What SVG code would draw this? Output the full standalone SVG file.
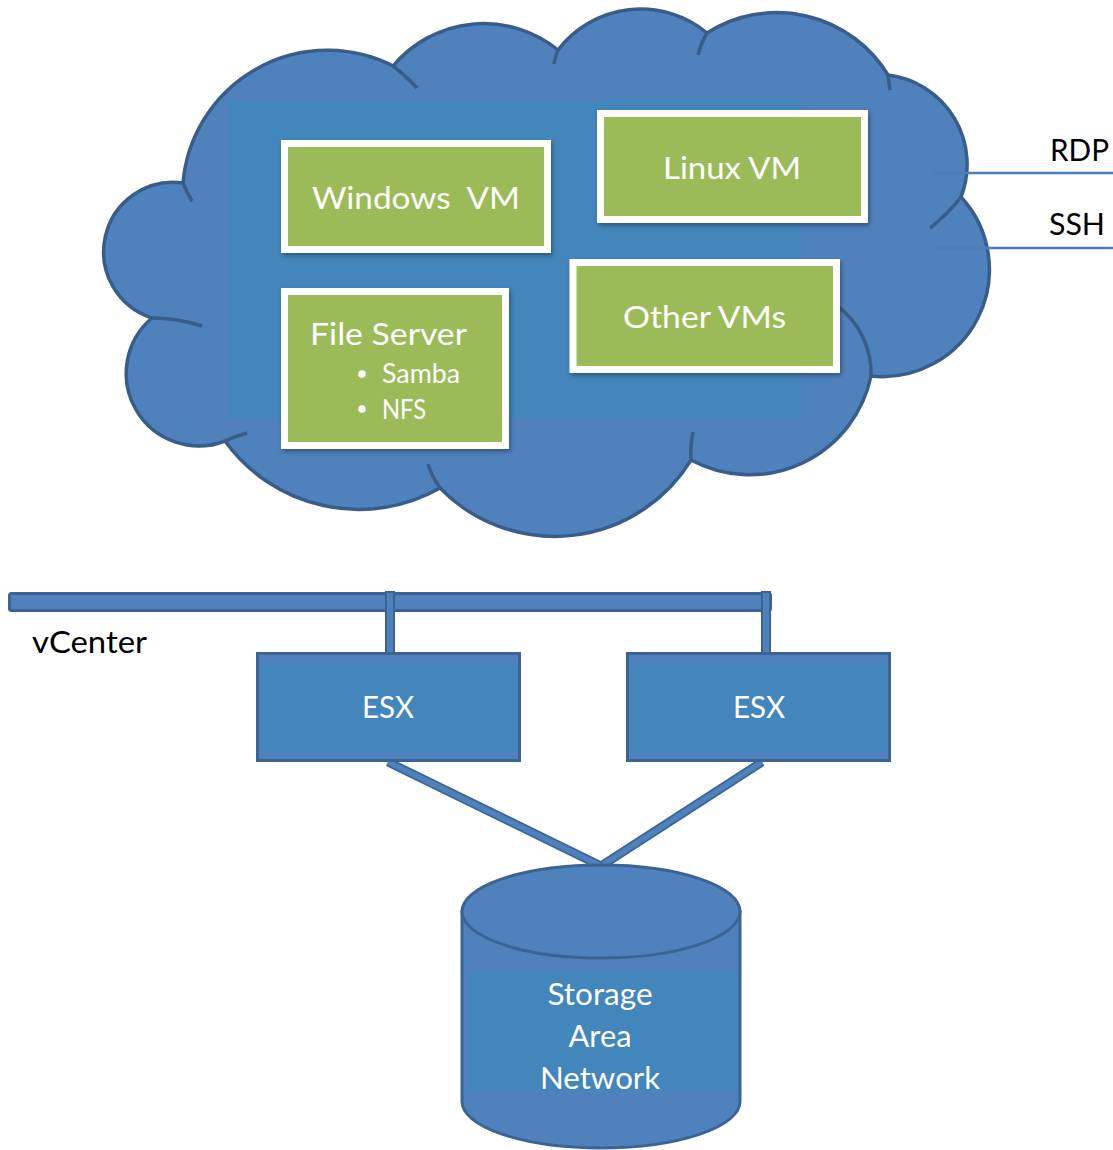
<svg xmlns="http://www.w3.org/2000/svg" width="1113" height="1150" viewBox="0 0 1113 1150">
<defs>
<style>
.cloud{fill:#4F81BD;stroke:#385D8A;stroke-width:3.5;stroke-linejoin:round}
.stub{fill:none;stroke:#385D8A;stroke-width:3.5;stroke-linecap:butt}
.ph{fill:#4386BB}
.vm{fill:#9BBB59;stroke:#FFFFFF;stroke-width:7;filter:url(#sh)}
.wt{fill:#FFFFFF;font-family:Lato,"Open Sans","Noto Sans",sans-serif}
.bk{fill:#000000;font-family:Lato,"Open Sans","Noto Sans",sans-serif;font-size:31px}
.big{font-size:31px}
.small{font-size:26px}
.box{fill:#4F81BD;stroke:#3B6494;stroke-width:3}
.inner{fill:#4386BC}
.proto{stroke:#4A7EBE;stroke-width:2.5;fill:none}
.edge{fill:none;stroke:#3B6494;stroke-width:9;stroke-linecap:butt}
.core{fill:none;stroke:#4F81BD;stroke-width:5.5;stroke-linecap:butt}
.stem{fill:#4F81BD;stroke:#3B6494;stroke-width:2}
</style>
<filter id="sh" x="-10%" y="-10%" width="120%" height="130%">
<feDropShadow dx="1.5" dy="2.5" stdDeviation="2" flood-color="#000" flood-opacity="0.35"/>
</filter>
</defs>

<g id="cloud">
<path class="cloud" d="M183,183 A145 145 0 0 1 393,66 A118 118 0 0 1 558,50 A104 104 0 0 1 707,33 A130 130 0 0 1 888,75 A90 90 0 0 1 961,197 A107 107 0 0 1 871,376 A124 124 0 0 1 691,460 A160 160 0 0 1 440,488 A165 165 0 0 1 225,441 A72.5 72.5 0 0 1 152,318 A69.5 69.5 0 0 1 183,183 Z"/>
<path class="stub" d="M183,183 Q187,193 192,201"/>
<path class="stub" d="M393,66 Q405,75 417,88"/>
<path class="stub" d="M558,50 Q555,57 554,64"/>
<path class="stub" d="M707,33 Q701,43 698,55"/>
<path class="stub" d="M888,75 Q889,82 890,90"/>
<path class="stub" d="M961,197 Q948,214 930,228"/>
<path class="stub" d="M871,376 C872,350 860,322 836,305"/>
<path class="stub" d="M691,460 Q690,446 693,432"/>
<path class="stub" d="M440,488 Q432,477 428,464"/>
<path class="stub" d="M225,441 Q236,436 247,433"/>
<path class="stub" d="M152,318 Q177,318 202,326"/>
<rect class="ph" x="228" y="100" width="573" height="318"/>
</g>

<g id="vm-windows">
<rect class="vm" x="284.5" y="143.5" width="263" height="106"/>
<text class="wt big" x="312" y="209" textLength="208" lengthAdjust="spacingAndGlyphs" xml:space="preserve">Windows  VM</text>
</g>

<g id="vm-linux">
<rect class="vm" x="600.5" y="113.5" width="264" height="106"/>
<text class="wt big" x="663" y="179" textLength="138" lengthAdjust="spacingAndGlyphs">Linux VM</text>
</g>

<g id="vm-other">
<rect class="vm" x="573" y="262.5" width="263.5" height="107"/>
<text class="wt big" x="623" y="328" textLength="163" lengthAdjust="spacingAndGlyphs">Other VMs</text>
</g>

<g id="vm-fileserver">
<rect class="vm" x="284.5" y="291.5" width="221" height="154"/>
<text class="wt big" x="310" y="345" textLength="157" lengthAdjust="spacingAndGlyphs">File Server</text>
<circle cx="362" cy="374" r="3.8" fill="#FFFFFF"/>
<text class="wt small" x="382" y="383" textLength="78" lengthAdjust="spacingAndGlyphs">Samba</text>
<circle cx="362" cy="409" r="3.8" fill="#FFFFFF"/>
<text class="wt small" x="382" y="419" textLength="44" lengthAdjust="spacingAndGlyphs">NFS</text>
</g>

<g id="access">
<line class="proto" x1="932" y1="173" x2="1113" y2="173"/>
<line class="proto" x1="932" y1="248" x2="1113" y2="248"/>
<text class="bk" x="1050" y="161" textLength="59" lengthAdjust="spacingAndGlyphs">RDP</text>
<text class="bk" x="1049" y="235" textLength="56" lengthAdjust="spacingAndGlyphs">SSH</text>
</g>

<g id="vcenter">
<rect class="box" x="9.5" y="593.5" width="761" height="17" rx="2"/>
<text class="bk" x="32" y="653" textLength="115" lengthAdjust="spacingAndGlyphs">vCenter</text>
</g>

<g id="connectors">
<rect class="stem" x="386" y="592" width="8" height="63"/>
<rect class="stem" x="762" y="592" width="8" height="63"/>
<path class="edge" d="M388,762 L601,866 L762,762"/>
<path class="core" d="M388,762 L601,866 L762,762"/>
</g>

<g id="esx-1">
<rect class="box" x="257.5" y="653.5" width="262" height="107"/>
<rect class="inner" x="261" y="664" width="255" height="88"/>
<text class="wt big" x="388" y="718" text-anchor="middle" textLength="52" lengthAdjust="spacingAndGlyphs">ESX</text>
</g>

<g id="esx-2">
<rect class="box" x="627.5" y="653.5" width="262" height="107"/>
<rect class="inner" x="631" y="664" width="255" height="88"/>
<text class="wt big" x="759" y="718" text-anchor="middle" textLength="52" lengthAdjust="spacingAndGlyphs">ESX</text>
</g>

<g id="san">
<path class="box" d="M462,911.5 L462,1101.5 A139 46.5 0 0 0 740,1101.5 L740,911.5 Z"/>
<ellipse class="box" cx="601" cy="911.5" rx="139" ry="46.5"/>
<rect class="inner" x="468" y="972" width="269" height="119"/>
<text class="wt big" x="600" y="1005" text-anchor="middle" textLength="105" lengthAdjust="spacingAndGlyphs">Storage</text>
<text class="wt big" x="600" y="1047" text-anchor="middle" textLength="63" lengthAdjust="spacingAndGlyphs">Area</text>
<text class="wt big" x="600" y="1089" text-anchor="middle" textLength="120" lengthAdjust="spacingAndGlyphs">Network</text>
</g>
</svg>
